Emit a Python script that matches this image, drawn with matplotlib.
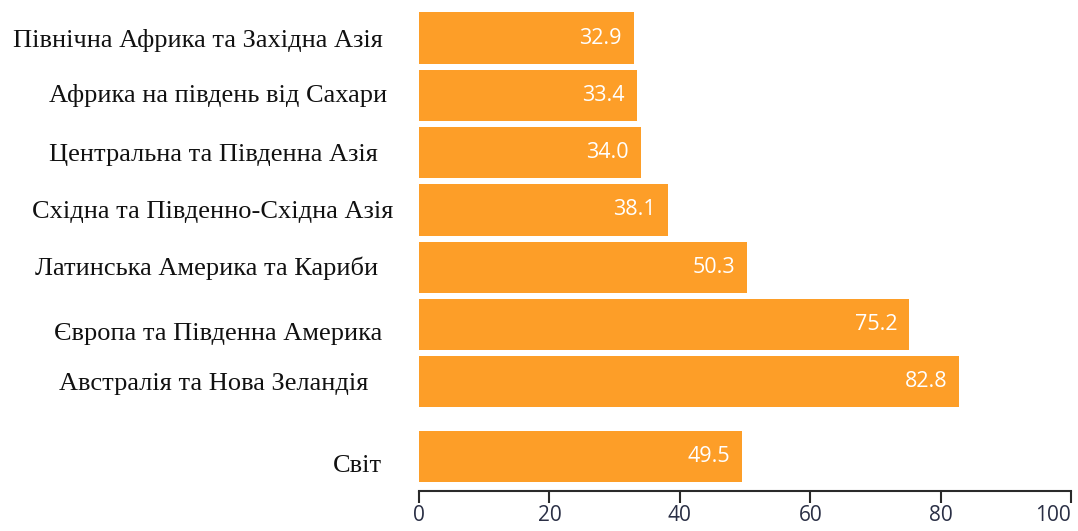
import numpy as np
import matplotlib
matplotlib.use("Agg")
import matplotlib.pyplot as plt

regions = [
    "Північна Африка та Західна Азія",
    "Африка на південь від Сахари",
    "Центральна та Південна Азія",
    "Східна та Південно-Східна Азія",
    "Латинська Америка та Кариби",
    "Європа та Південна Америка",
    "Австралія та Нова Зеландія",
    "Світ",
]
values = [32.9, 33.4, 34.0, 38.1, 50.3, 75.2, 82.8, 49.5]
xticks = [0, 20, 40, 60, 80, 100]

# layout (not data)
positions = [0, 1, 2, 3, 4, 5, 6, 7.30]
label_gap_px = [36, 32, 41, 26, 41, 37, 51, 37]
label_baseline_px = [9, 7, 8, 8, 8, 15, 8.5, 15.5]

bar_color = "#FD9E28"

fig = plt.figure(figsize=(10.78, 5.31), dpi=100)
ax = fig.add_axes([0.3887, 0.0753, 0.605, 0.9247])

ax.barh(positions, values, height=0.89, color=bar_color, edgecolor="none")

ax.set_xlim(0, 100)
ax.set_ylim(7.902, -0.663)

for pos, v in zip(positions, values):
    ax.annotate(f"{v:.1f}", xy=(v, pos), xytext=(-12, 0), textcoords="offset pixels",
                ha="right", va="center", color="white", fontsize=15.5,
                family=["Open Sans", "DejaVu Sans"])

for pos, lab, gap, bl in zip(positions, regions, label_gap_px, label_baseline_px):
    ax.annotate(lab, xy=(0, pos), xycoords=("axes fraction", "data"),
                xytext=(-gap, -bl), textcoords="offset pixels",
                ha="right", va="baseline", fontsize=19, color="#111111",
                family=["Liberation Serif", "DejaVu Serif"])

ax.set_yticks([])
for s in ("left", "top", "right"):
    ax.spines[s].set_visible(False)
ax.spines["bottom"].set_linewidth(1.5)
ax.spines["bottom"].set_color("#2a2a2a")

ax.set_xticks(xticks)
ax.set_xticklabels([str(t) for t in xticks], fontsize=15,
                   family="Open Sans", color="#2a2f45")
ax.tick_params(axis="x", direction="out", length=8.6, width=1.5,
               color="#2a2a2a", pad=1.5)
lbls = ax.get_xticklabels()
lbls[-1].set_horizontalalignment("right")

fig.savefig("out.png", dpi=100)
